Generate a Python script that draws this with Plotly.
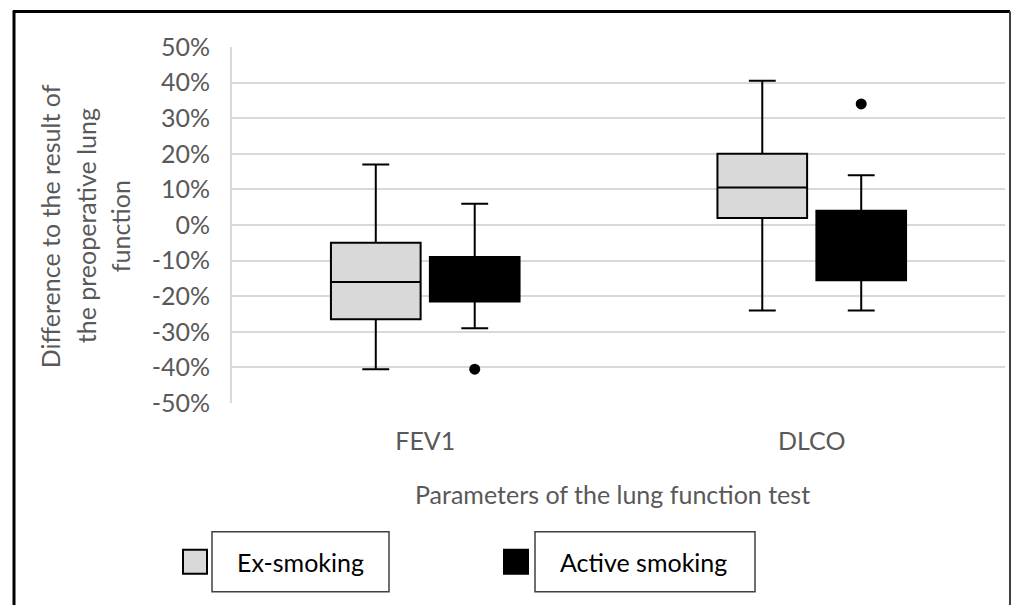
import plotly.graph_objects as go

# ---- data ----
categories = ["FEV1", "DLCO"]
series_names = ["Ex-smoking", "Active smoking"]
series_fill = ["#d9d9d9", "#000000"]

ex_lower = [-0.405, -0.24]
ex_q1 = [-0.265, 0.02]
ex_median = [-0.16, 0.105]
ex_q3 = [-0.05, 0.20]
ex_upper = [0.17, 0.405]
ex_outliers = [[], []]

act_lower = [-0.29, -0.24]
act_q1 = [-0.215, -0.155]
act_median = [-0.15, -0.05]
act_q3 = [-0.09, 0.04]
act_upper = [0.06, 0.14]
act_outliers = [[-0.405], [0.34]]

y_ticks = [-0.5, -0.4, -0.3, -0.2, -0.1, 0.0, 0.1, 0.2, 0.3, 0.4, 0.5]
y_ticktext = ["-50%", "-40%", "-30%", "-20%", "-10%", "0%", "10%", "20%", "30%", "40%", "50%"]

stats = [
    (ex_lower, ex_q1, ex_median, ex_q3, ex_upper, ex_outliers),
    (act_lower, act_q1, act_median, act_q3, act_upper, act_outliers),
]

# ---- layout geometry (pixels) ----
W, H = 1012, 605
L, R, T, B = 232, 1005, 46.5, 403
PW, PH = R - L, B - T


def px(x):
    return (x - L) / PW


def py(y):
    return (B - y) / PH


slot = 0.256      # group slot width in category units
box_w = 0.232     # box width in category units
n = len(series_names)

FONT = "Lato"
GRAY = "#595959"
FS = 25

fig = go.Figure()
for j, (name, fill, st) in enumerate(zip(series_names, series_fill, stats)):
    lo, q1, med, q3, hi, outs = st
    xs = [i + (j - (n - 1) / 2) * slot for i in range(len(categories))]
    fig.add_trace(go.Box(
        x=xs, q1=q1, median=med, q3=q3, lowerfence=lo, upperfence=hi,
        name=name, width=box_w, whiskerwidth=0.3,
        fillcolor=fill, line=dict(color="#000000", width=2),
        boxpoints=False, showlegend=False, hoverinfo="skip",
    ))
    ox, oy = [], []
    for x, vals in zip(xs, outs):
        for v in vals:
            ox.append(x)
            oy.append(v)
    fig.add_trace(go.Scatter(
        x=ox, y=oy, mode="markers", showlegend=False,
        marker=dict(color="#000000", size=11),
        hoverinfo="skip",
    ))

shapes = []
# outer frame
shapes.append(dict(type="line", xref="paper", yref="paper", x0=px(14), x1=px(14),
                   y0=py(10), y1=py(610), line=dict(color="#000000", width=3)))
shapes.append(dict(type="line", xref="paper", yref="paper", x0=px(13), x1=px(1010),
                   y0=py(11), y1=py(11), line=dict(color="#000000", width=3)))
shapes.append(dict(type="line", xref="paper", yref="paper", x0=px(1010), x1=px(1010),
                   y0=py(11), y1=py(610), line=dict(color="#404040", width=2)))

annotations = []
# y-axis title (three lines)
ytitle_lines = ["Difference to the result of", "the preoperative lung", "function"]
for xline, txt in zip([50, 86, 120], ytitle_lines):
    annotations.append(dict(text=txt, xref="paper", yref="paper", x=px(xline), y=py(226),
                            xanchor="center", yanchor="middle", textangle=-90, showarrow=False,
                            font=dict(family=FONT, size=FS, color=GRAY)))
# x-axis title
annotations.append(dict(text="Parameters of the lung function test", xref="paper", yref="paper",
                        x=px(612), y=py(494), xanchor="center", yanchor="middle", showarrow=False,
                        font=dict(family=FONT, size=FS, color=GRAY)))

# manual legend
leg_sym = [(183, 207), (504, 528)]
leg_rect = [(212, 389), (535, 755)]
leg_text_x = [300, 643]
for (sx0, sx1), (rx0, rx1), tx, name, fill in zip(leg_sym, leg_rect, leg_text_x, series_names, series_fill):
    shapes.append(dict(type="rect", xref="paper", yref="paper", x0=px(sx0), x1=px(sx1),
                       y0=py(574), y1=py(550), fillcolor=fill, line=dict(color="#000000", width=2)))
    shapes.append(dict(type="rect", xref="paper", yref="paper", x0=px(rx0), x1=px(rx1),
                       y0=py(592), y1=py(532), fillcolor="rgba(0,0,0,0)",
                       line=dict(color="#404040", width=1.5)))
    annotations.append(dict(text=name, xref="paper", yref="paper", x=px(tx), y=py(562),
                            xanchor="center", yanchor="middle", showarrow=False,
                            font=dict(family=FONT, size=FS, color="#000000")))

fig.update_layout(
    width=W, height=H,
    margin=dict(l=L, r=W - R, t=T, b=H - B, pad=0),
    paper_bgcolor="#ffffff", plot_bgcolor="#ffffff",
    font=dict(family=FONT, size=FS, color=GRAY),
    boxmode="overlay",
    shapes=shapes, annotations=annotations,
    xaxis=dict(range=[-0.5, 1.5], tickvals=list(range(len(categories))), ticktext=categories,
               showgrid=False, zeroline=False, showline=False, ticks="",
               ticklabelstandoff=21, tickfont=dict(family=FONT, size=FS, color=GRAY)),
    yaxis=dict(range=[-0.5, 0.5], tickvals=y_ticks, ticktext=y_ticktext,
               showgrid=True, gridcolor="#d9d9d9", gridwidth=2,
               zeroline=False, showline=True, linecolor="#d9d9d9", linewidth=2,
               ticks="", ticklabelstandoff=15,
               tickfont=dict(family=FONT, size=FS, color=GRAY)),
)

fig.write_html("out.html", config={"displayModeBar": False})

# remove the browser's default page margin so the figure sits at (0, 0)
with open("out.html", "r", encoding="utf-8") as f:
    html = f.read()
html = html.replace("<body>", '<body style="margin:0;overflow:hidden">', 1)
with open("out.html", "w", encoding="utf-8") as f:
    f.write(html)
